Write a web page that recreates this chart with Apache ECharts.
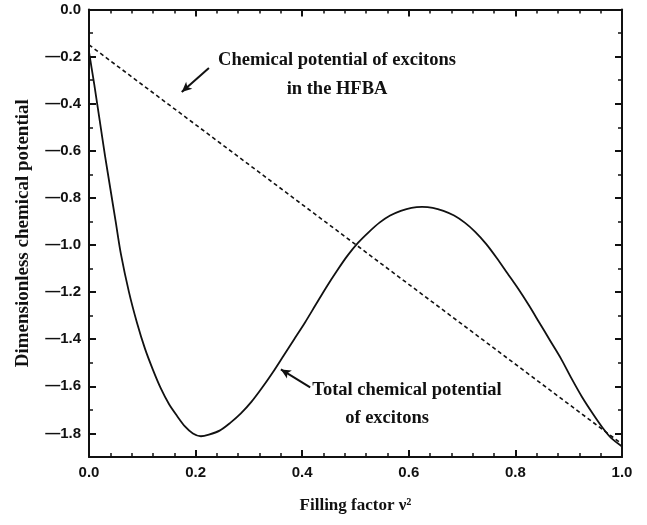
<!DOCTYPE html>
<html>
<head>
<meta charset="utf-8">
<script src="https://cdn.jsdelivr.net/npm/echarts@6/dist/echarts.min.js"></script>
<style>html,body{margin:0;padding:0;background:#fff;}#c{width:647px;height:525px;}</style>
</head>
<body>
<div id="c"></div>
<script>
// Total chemical potential of excitons (solid)
var totalX = [0.000,0.005,0.010,0.020,0.030,0.040,0.050,0.060,0.075,0.090,0.105,0.120,0.135,0.150,0.165,0.180,0.195,0.210,0.225,0.245,0.265,0.285,0.305,0.325,0.345,0.365,0.385,0.405,0.425,0.445,0.465,0.485,0.505,0.525,0.545,0.565,0.585,0.605,0.625,0.645,0.665,0.685,0.705,0.725,0.745,0.765,0.785,0.805,0.825,0.845,0.865,0.885,0.905,0.925,0.945,0.965,0.980,1.000];
var totalY = [-0.18,-0.25,-0.32,-0.47,-0.62,-0.76,-0.90,-1.04,-1.20,-1.33,-1.44,-1.53,-1.61,-1.675,-1.725,-1.77,-1.80,-1.812,-1.805,-1.788,-1.755,-1.715,-1.665,-1.605,-1.54,-1.47,-1.40,-1.33,-1.255,-1.18,-1.11,-1.045,-0.99,-0.945,-0.905,-0.875,-0.855,-0.842,-0.838,-0.842,-0.855,-0.875,-0.905,-0.945,-0.995,-1.055,-1.12,-1.185,-1.255,-1.33,-1.405,-1.48,-1.565,-1.645,-1.715,-1.78,-1.82,-1.855];
// Chemical potential of excitons in the HFBA (dashed)
var hfbaX = [0, 1];
var hfbaY = [-0.15, -1.845];

var xTicks = [0.0, 0.2, 0.4, 0.6, 0.8, 1.0];
var yTicks = [0.0, -0.2, -0.4, -0.6, -0.8, -1.0, -1.2, -1.4, -1.6, -1.8];

function pairs(xs, ys){ return xs.map(function(x,i){ return [x, ys[i]]; }); }
function isTick(list, v){ return list.some(function(t){ return Math.abs(t - v) < 1e-6; }); }

var chart = echarts.init(document.getElementById('c'));
var serif = '"Liberation Serif", "DejaVu Serif", serif';
var sans = '"Liberation Sans", Arial, sans-serif';
var axLine = {show:true, onZero:false, lineStyle:{color:'#111', width:2}};
var minus = function(v){ return v.toFixed(1).replace('-', '\u2014'); };
var majorTick = {show:true, inside:true, length:7, lineStyle:{color:'#111', width:2}};

chart.setOption({
  animation:false,
  backgroundColor:'#fff',
  grid:{left:89, right:25, top:9.5, bottom:68},
  xAxis:[{
    type:'value', min:0, max:1, interval:0.2, position:'bottom',
    axisLine:axLine, axisTick:majorTick,
    minorTick:{show:true, splitNumber:5, length:4, lineStyle:{color:'#111', width:1.5}},
    splitLine:{show:false},
    axisLabel:{margin:8, color:'#111', fontFamily:sans, fontWeight:'bold', fontSize:15,
      formatter:function(v){ return isTick(xTicks, v) ? minus(v) : ''; }},
    name:'Filling factor \u03bd\u00b2', nameLocation:'middle', nameGap:40,
    nameTextStyle:{color:'#111', fontFamily:serif, fontWeight:'bold', fontSize:17}
  },{
    type:'value', min:0, max:1, interval:0.2, position:'top',
    axisLine:axLine, axisTick:majorTick,
    minorTick:{show:true, splitNumber:5, length:4, lineStyle:{color:'#111', width:1.5}},
    splitLine:{show:false}, axisLabel:{show:false}
  }],
  yAxis:[{
    type:'value', min:-1.9, max:0, splitNumber:10, position:'left',
    axisLine:axLine, axisTick:majorTick,
    minorTick:{show:true, splitNumber:2, length:4, lineStyle:{color:'#111', width:1.5}},
    splitLine:{show:false},
    axisLabel:{margin:8, color:'#111', fontFamily:sans, fontWeight:'bold', fontSize:15,
      showMinLabel:false,
      formatter:function(v){ return isTick(yTicks, v) ? minus(v) : ''; }},
    name:'Dimensionless chemical potential', nameLocation:'middle', nameGap:56,
    nameTextStyle:{color:'#111', fontFamily:serif, fontWeight:'bold', fontSize:19}
  },{
    type:'value', min:-1.9, max:0, splitNumber:10, position:'right',
    axisLine:axLine, axisTick:majorTick,
    minorTick:{show:true, splitNumber:2, length:4, lineStyle:{color:'#111', width:1.5}},
    splitLine:{show:false}, axisLabel:{show:false}
  }],
  series:[{
    type:'line', name:'Total', data:pairs(totalX, totalY), showSymbol:false, smooth:0.3,
    lineStyle:{color:'#111', width:1.8},
    markLine:{silent:true, symbol:['none','arrow'], symbolSize:[7,10],
      lineStyle:{color:'#111', width:2, type:'solid'}, label:{show:false},
      data:[[{coord:[0.415,-1.604]},{coord:[0.360,-1.528]}]]}
  },{
    type:'line', name:'HFBA', data:pairs(hfbaX, hfbaY), showSymbol:false,
    lineStyle:{color:'#111', width:1.6, type:[4,3]},
    markLine:{silent:true, symbol:['none','arrow'], symbolSize:[7,10],
      lineStyle:{color:'#111', width:2, type:'solid'}, label:{show:false},
      data:[[{coord:[0.225,-0.248]},{coord:[0.174,-0.350]}]]}
  }],
  graphic:[
    {type:'text', style:{text:'Chemical potential of excitons', x:337, y:60, align:'center', verticalAlign:'middle', font:'bold 18.5px "Liberation Serif", serif', fill:'#111'}},
    {type:'text', style:{text:'in the HFBA', x:337, y:89, align:'center', verticalAlign:'middle', font:'bold 18.5px "Liberation Serif", serif', fill:'#111'}},
    {type:'text', style:{text:'Total chemical potential', x:407, y:390, align:'center', verticalAlign:'middle', font:'bold 18.5px "Liberation Serif", serif', fill:'#111'}},
    {type:'text', style:{text:'of excitons', x:387, y:418, align:'center', verticalAlign:'middle', font:'bold 18.5px "Liberation Serif", serif', fill:'#111'}}
  ]
});
</script>
</body>
</html>
